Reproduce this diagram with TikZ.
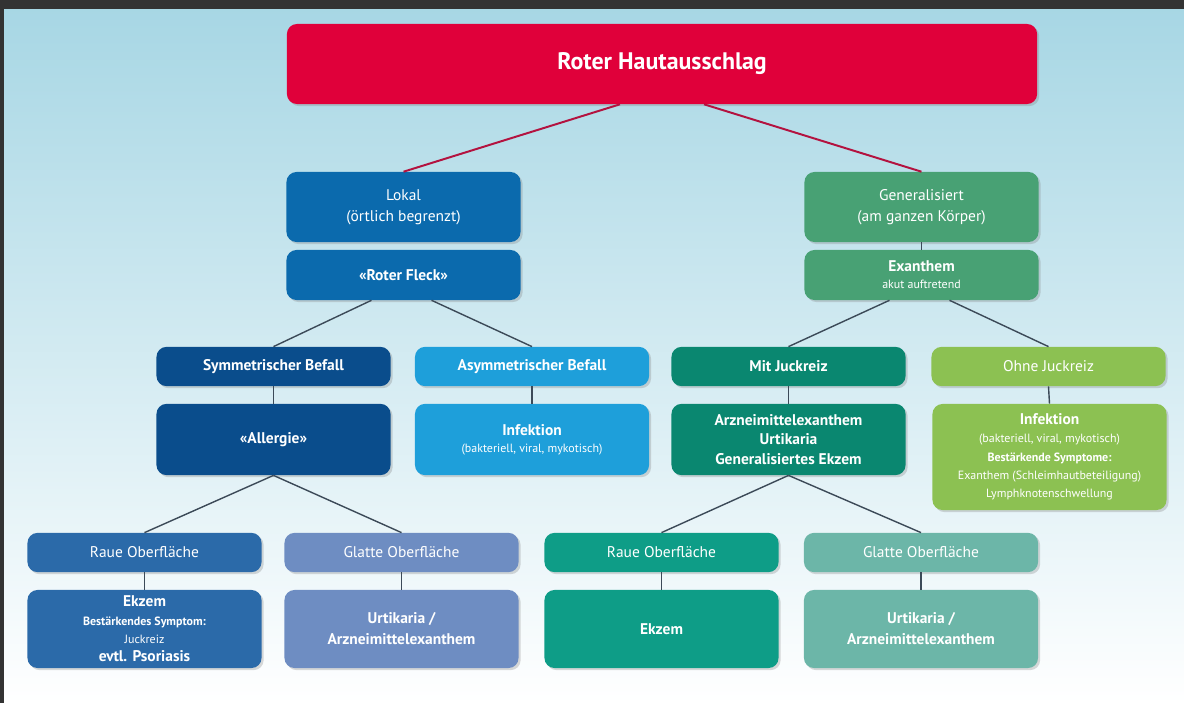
\documentclass[tikz,border=0pt]{standalone}
\usepackage{fontspec}
\setmainfont{PT Sans}
\usetikzlibrary{shadows}

\definecolor{bgtop}{HTML}{A6D6E4}
\definecolor{bgmid}{HTML}{E4F2F7}
\definecolor{titlered}{HTML}{E0003A}
\definecolor{linkred}{HTML}{B3123F}
\definecolor{linkgray}{HTML}{3C4A58}
\definecolor{lokalblue}{HTML}{0B6AAD}
\definecolor{generalgreen}{HTML}{48A174}
\definecolor{symmblue}{HTML}{0A4D8C}
\definecolor{asymmblue}{HTML}{1E9FDA}
\definecolor{juckteal}{HTML}{0A8770}
\definecolor{ohnelime}{HTML}{8CC152}
\definecolor{rauelblue}{HTML}{2B6AA9}
\definecolor{glattlblue}{HTML}{6E8DC2}
\definecolor{rauerteal}{HTML}{0E9D87}
\definecolor{glattrteal}{HTML}{6CB6A8}

\newcommand{\smallsize}{\fontsize{8.5}{11}\selectfont}
\newcommand{\mainsize}{\fontsize{11}{15}\selectfont}

\begin{document}
\begin{tikzpicture}[x=0.025cm,y=-0.025cm,
    box/.style={rounded corners=0.25cm, text=white, align=center, inner sep=2pt,
      minimum width=5.85cm, font=\mainsize,
      drop shadow={shadow xshift=1.5pt, shadow yshift=-1.5pt, opacity=0.3}},
    headbox/.style={box, minimum height=0.98cm, font=\bfseries\mainsize},
    link/.style={draw=linkgray, line width=1pt},
    titlelink/.style={draw=linkred, line width=1.4pt}]
  \shade[top color=bgtop, middle color=bgmid, bottom color=white] (0,0) rectangle (1184,703);
  \fill[black!80] (0,0) rectangle (1184,9);
  \fill[black!80] (0,0) rectangle (4,703);

  \node[box, fill=titlered, minimum width=18.75cm, minimum height=2cm,
    font=\bfseries\fontsize{17}{20}\selectfont] (title) at (662,64) {\raisebox{-4pt}{Roter Hautausschlag}};

  \node[box, fill=lokalblue, minimum height=1.75cm] (lokal) at (403.5,207) {Lokal\\(örtlich begrenzt)};
  \node[box, fill=lokalblue, minimum height=1.25cm, font=\bfseries\mainsize] (fleck) at (403.5,275) {«Roter Fleck»};
  \node[box, fill=generalgreen, minimum height=1.75cm] (general) at (921.5,207) {Generalisiert\\(am ganzen Körper)};
  \node[box, fill=generalgreen, minimum height=1.25cm] (exanthem) at (921.5,275) {\textbf{Exanthem}\\[-3pt]\smallsize akut auftretend};

  \node[headbox, fill=symmblue] (symm) at (273.5,366.5) {Symmetrischer Befall};
  \node[headbox, fill=asymmblue] (asymm) at (532,366.5) {Asymmetrischer Befall};
  \node[headbox, fill=juckteal] (mitjuck) at (788.5,366.5) {Mit Juckreiz};
  \node[box, fill=ohnelime, minimum height=0.98cm] (ohnejuck) at (1048.5,366.5) {Ohne Juckreiz};

  \node[box, fill=symmblue, minimum height=1.78cm, font=\bfseries\mainsize] (allergie) at (273.5,439.5) {«Allergie»};
  \node[box, fill=asymmblue, minimum height=1.78cm] (infekt) at (532,439.5) {\textbf{Infektion}\\[-3pt]\smallsize (bakteriell, viral, mykotisch)};
  \node[box, fill=juckteal, minimum height=1.78cm, font=\bfseries\fontsize{11}{14}\selectfont] (arznei) at (788.5,439.5) {Arzneimittelexanthem\\Urtikaria\\Generalisiertes Ekzem};
  \node[box, fill=ohnelime, minimum height=2.65cm, font=\fontsize{8.5}{13}\selectfont] (infektgruen) at (1049.5,457) {\textbf{\mainsize Infektion}\\(bakteriell, viral, mykotisch)\\\textbf{Bestärkende Symptome:}\\Exanthem (Schleimhautbeteiligung)\\Lymphknotenschwellung};

  \node[box, fill=rauelblue, minimum height=0.98cm] (rauel) at (144.5,552.5) {Raue Oberfläche};
  \node[box, fill=glattlblue, minimum height=0.98cm] (glattl) at (401.5,552.5) {Glatte Oberfläche};
  \node[box, fill=rauerteal, minimum height=0.98cm] (rauer) at (661.5,552.5) {Raue Oberfläche};
  \node[box, fill=glattrteal, minimum height=0.98cm] (glattr) at (921,552.5) {Glatte Oberfläche};

  \node[box, fill=rauelblue, minimum height=1.95cm, font=\fontsize{8.5}{13}\selectfont] (ekzeml) at (144.5,629) {\textbf{\mainsize Ekzem}\\\textbf{Bestärkendes Symptom:}\\Juckreiz\\\textbf{\mainsize evtl. Psoriasis}};
  \node[box, fill=glattlblue, minimum height=1.95cm, font=\bfseries\mainsize] (urtil) at (401.5,629) {Urtikaria /\\Arzneimittelexanthem};
  \node[box, fill=rauerteal, minimum height=1.95cm, font=\bfseries\mainsize] (ekzemr) at (661.5,629) {Ekzem};
  \node[box, fill=glattrteal, minimum height=1.95cm, font=\bfseries\mainsize] (urtir) at (921,629) {Urtikaria /\\Arzneimittelexanthem};

  \draw[titlelink] ([xshift=-1.05cm]title.south) -- (lokal.north);
  \draw[titlelink] ([xshift=1.05cm]title.south) -- (general.north);
  \draw[link] (general.south) -- (exanthem.north);
  \draw[link] ([xshift=-0.8cm]fleck.south) -- (symm.north);
  \draw[link] ([xshift=0.7cm]fleck.south) -- (asymm.north);
  \draw[link] ([xshift=-0.8cm]exanthem.south) -- (mitjuck.north);
  \draw[link] ([xshift=0.7cm]exanthem.south) -- (ohnejuck.north);
  \draw[link] (symm.south) -- (allergie.north);
  \draw[link] (asymm.south) -- (infekt.north);
  \draw[link] (mitjuck.south) -- (arznei.north);
  \draw[link] (ohnejuck.south) -- (infektgruen.north);
  \draw[link] (allergie.south) -- (rauel.north);
  \draw[link] (allergie.south) -- (glattl.north);
  \draw[link] (arznei.south) -- (rauer.north);
  \draw[link] (arznei.south) -- (glattr.north);
  \draw[link] (rauel.south) -- (ekzeml.north);
  \draw[link] (glattl.south) -- (urtil.north);
  \draw[link] (rauer.south) -- (ekzemr.north);
  \draw[link] (glattr.south) -- (urtir.north);
\end{tikzpicture}
\end{document}
